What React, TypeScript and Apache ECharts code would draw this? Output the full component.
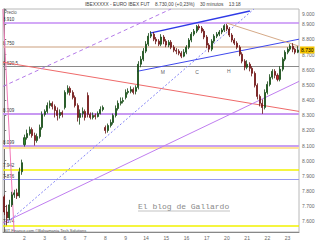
import React, { useEffect, useRef } from "react";
import * as echarts from "echarts";

// Day labels (first day unlabeled)
const dayLabels = ["", "2", "3", "6", "7", "8", "9", "14", "15", "16", "17", "20", "21", "22", "23"];

// candles per day: [open, close, low, high]
const d00 = [[7762, 7662, 7642, 7775], [7662, 7623, 7574, 7709], [7623, 7709, 7609, 7742], [7709, 7775, 7695, 7795], [7775, 7788, 7755, 7808], [7788, 7768, 7748, 7815], [7768, 7927, 7755, 7954], [7927, 7987, 7907, 8007]];
const d02 = [[8106, 8152, 8093, 8172], [8152, 8179, 8139, 8205], [8179, 8205, 8166, 8225], [8205, 8166, 8152, 8219], [8166, 8133, 8100, 8185], [8133, 8159, 8119, 8179], [8159, 8219, 8146, 8238], [8219, 8305, 8205, 8325]];
const d03 = [[8305, 8325, 8291, 8338], [8325, 8364, 8311, 8384], [8364, 8378, 8344, 8397], [8378, 8358, 8338, 8391], [8358, 8331, 8285, 8371], [8331, 8298, 8265, 8351], [8298, 8318, 8278, 8338], [8318, 8305, 8285, 8331]];
const d06 = [[8351, 8450, 8338, 8464], [8450, 8477, 8437, 8497], [8477, 8450, 8430, 8490], [8450, 8417, 8404, 8464], [8417, 8364, 8351, 8430], [8364, 8285, 8258, 8378], [8285, 8311, 8238, 8338], [8311, 8325, 8285, 8351]];
const d07 = [[8325, 8285, 8265, 8338], [8430, 8305, 8285, 8450], [8305, 8285, 8272, 8318], [8285, 8298, 8272, 8318], [8298, 8291, 8272, 8311], [8291, 8311, 8285, 8325], [8311, 8338, 8305, 8358], [8338, 8351, 8325, 8364]];
const d08 = [[8219, 8199, 8179, 8232], [8199, 8232, 8185, 8245], [8232, 8252, 8219, 8272], [8252, 8298, 8238, 8311], [8298, 8344, 8285, 8364], [8344, 8378, 8331, 8397], [8378, 8391, 8364, 8417], [8391, 8397, 8378, 8417]];
const d09 = [[8417, 8450, 8404, 8470], [8450, 8457, 8437, 8477], [8457, 8470, 8444, 8490], [8470, 8450, 8437, 8483], [8457, 8483, 8437, 8497], [8483, 8636, 8470, 8656], [8636, 8669, 8616, 8689], [8669, 8722, 8656, 8742]];
const d14 = [[8722, 8768, 8709, 8788], [8768, 8821, 8755, 8841], [8821, 8834, 8808, 8854], [8834, 8801, 8788, 8848], [8801, 8788, 8768, 8815], [8788, 8768, 8755, 8801], [8768, 8815, 8755, 8834], [8815, 8788, 8768, 8828]];
const d15 = [[8788, 8762, 8748, 8801], [8762, 8781, 8748, 8795], [8781, 8748, 8735, 8795], [8748, 8728, 8715, 8762], [8728, 8722, 8702, 8742], [8722, 8709, 8695, 8735], [8709, 8689, 8676, 8722], [8689, 8715, 8682, 8735]];
const d16 = [[8715, 8748, 8702, 8762], [8748, 8795, 8735, 8808], [8795, 8834, 8781, 8848], [8834, 8854, 8821, 8868], [8854, 8885, 8841, 8895], [8885, 8875, 8861, 8898], [8875, 8854, 8841, 8888], [8854, 8815, 8801, 8868]];
const d17 = [[8815, 8762, 8742, 8828], [8762, 8735, 8715, 8775], [8735, 8788, 8722, 8801], [8788, 8821, 8775, 8834], [8821, 8834, 8808, 8848], [8834, 8848, 8821, 8861], [8848, 8861, 8834, 8874], [8861, 8890, 8848, 8900]];
const d20 = [[8890, 8868, 8854, 8902], [8868, 8828, 8815, 8881], [8828, 8795, 8781, 8841], [8795, 8775, 8762, 8808], [8775, 8748, 8735, 8788], [8748, 8702, 8689, 8762], [8702, 8656, 8642, 8715], [8656, 8616, 8596, 8669]];
const d21 = [[8616, 8636, 8603, 8662], [8636, 8609, 8589, 8649], [8609, 8576, 8556, 8623], [8576, 8497, 8483, 8589], [8497, 8424, 8404, 8510], [8424, 8378, 8358, 8437], [8378, 8351, 8309, 8404], [8351, 8450, 8338, 8470]];
const d22 = [[8450, 8503, 8437, 8523], [8503, 8550, 8490, 8570], [8550, 8589, 8536, 8603], [8589, 8563, 8543, 8603], [8563, 8536, 8523, 8576], [8536, 8603, 8523, 8623], [8603, 8669, 8589, 8682], [8669, 8715, 8656, 8728]];
const d23 = [[8715, 8735, 8702, 8748], [8735, 8755, 8722, 8768], [8755, 8735, 8715, 8775], [8735, 8715, 8702, 8742], [8715, 8730, 8709, 8755]];
const days = [d00, d02, d03, d06, d07, d08, d09, d14, d15, d16, d17, d20, d21, d22, d23];

const yTicks = [7600, 7700, 7800, 7900, 8000, 8100, 8200, 8300, 8400, 8500, 8600, 8700, 8800, 8900, 9000];
const lastPrice = 8730;

// horizontal support / resistance levels
const levelValues = [8910, 8750, 8620.5, 8309, 8100, 8088, 7942, 7876, 7574];
const levelLabels = ["8.910", "8.750", "8.620,5", "8.309", "8.099", "", "7.942", "7.876", "7.574"];
const levelColors = ["#c58cf5", "#dcbfa8", "#8a8a8a", "#c898f2", "#c8a0f2", "#ffe39a", "#f2f200", "#9a9af0", "#f2f200"];
const levelWidths = [1.5, 1.5, 1, 2, 2, 2, 1.5, 1, 1.5];

// trendlines: [[candle index, price], [candle index, price]]
const tlPink = [[-0.5, 9000], [3.9, 7530]];
const tlRed = [[-0.5, 8649], [116.5, 8325]];
const tlPurple = [[-0.5, 7590], [116.5, 8523]];
const tlBlueDotted = [[0.3, 7580], [98.7, 9000]];
const tlPurpleDashed = [[-0.5, 8490], [65.9, 9000]];
const tlBlueUpper = [[57.6, 8841], [97.1, 8987]];
const tlBlueLower = [[52.5, 8589], [116.5, 8801]];
const tlTan = [[88.0, 8907], [116.5, 8755]];

// pattern letters: [candle index, price, text]
const letters = [[62.7, 8583, "M"], [76.2, 8583, "C"], [88.8, 8589, "H"]];

const headerText = "IBEXXXXX - EURO IBEX FUT    8.730,00 (+0,23%)    30 minutos    13:18";

const fmt = (v: number) => {
  const t = Math.floor(v / 1000);
  const r = Math.round(v % 1000);
  return t + "." + String(r).padStart(3, "0");
};

export default function App() {
  const ref = useRef<HTMLDivElement>(null);
  useEffect(() => {
    const chart = echarts.init(ref.current!, null, { renderer: "svg" });
    const candles: number[][] = [];
    const cats: string[] = [];
    days.forEach((d, di) => {
      d.forEach((c, ci) => {
        candles.push(c);
        cats.push(ci === 0 ? dayLabels[di] : "");
      });
    });
    const N = candles.length;
    const font = "Liberation Sans";
    const tl = (data: number[][], color: string, type: any = "solid", width = 1) => ({
      type: "line",
      xAxisIndex: 1,
      yAxisIndex: 0,
      data,
      symbol: "none",
      silent: true,
      lineStyle: { color, width, type },
      z: 3,
    });
    const option: any = {
      animation: false,
      backgroundColor: "#ffffff",
      textStyle: { fontFamily: font },
      grid: { left: 3, right: 21, top: 9, bottom: 8, show: true, borderColor: "#b8b8b8", borderWidth: 1 },
      xAxis: [
        {
          type: "category",
          data: cats,
          boundaryGap: true,
          axisLine: { show: true, lineStyle: { color: "#888" } },
          axisTick: { show: false },
          axisLabel: { interval: 0, fontSize: 5, color: "#666", margin: 3, fontFamily: font },
          splitLine: { show: false },
        },
        { type: "value", min: -0.5, max: N - 0.5, show: false },
      ],
      yAxis: {
        type: "value",
        position: "right",
        min: 7530,
        max: 9000,
        scale: true,
        axisLine: { show: true, lineStyle: { color: "#777" } },
        axisTick: { show: true, length: 2, customValues: yTicks, lineStyle: { color: "#777" } },
        axisLabel: {
          customValues: yTicks,
          fontSize: 5,
          color: "#666",
          margin: 3,
          fontFamily: font,
          formatter: (v: number) => (v >= 9000 ? "{top|" + fmt(v) + "}" : fmt(v)),
          rich: { top: { padding: [10, 0, 0, 0], fontSize: 5, color: "#666", fontFamily: font } },
        },
        splitLine: { show: false },
      },
      graphic: [
        { type: "text", left: 85, top: 1.5, style: { text: headerText, fontSize: 4.8, fill: "#444", fontFamily: font } },
        { type: "text", left: 4, top: 10, style: { text: "Precio", fontSize: 4.5, fill: "#555", fontFamily: font } },
        { type: "text", left: 4, top: 228.5, z: 10, style: { text: "BIT Finance.com \u00a9Bolsamania Tech Solutions", fontSize: 4, fill: "#555", fontFamily: font } },
        { type: "text", left: 138, top: 202, style: { text: "El blog de Gallardo", fontSize: 8, fill: "#8a8a8a", fontFamily: "Liberation Mono" } },
        { type: "line", shape: { x1: 138, y1: 211, x2: 230, y2: 211 }, style: { stroke: "#9a9a9a", lineWidth: 0.6 } },
      ],
      series: [
        {
          type: "candlestick",
          xAxisIndex: 0,
          yAxisIndex: 0,
          data: candles,
          barWidth: "60%",
          z: 5,
          itemStyle: { color: "#2a8a2a", color0: "#c42828", borderColor: "#114411", borderColor0: "#661111", borderWidth: 0.8 },
          markLine: {
            silent: true,
            symbol: ["none", "none"],
            z: 2,
            data: [
              ...levelValues.map((v, i) => ({
                yAxis: v,
                lineStyle: { color: levelColors[i], width: levelWidths[i], type: "solid" },
                label: {
                  show: levelLabels[i] !== "",
                  position: "insideStartTop",
                  formatter: levelLabels[i],
                  fontSize: 4.5,
                  color: "#333",
                  distance: [0, 1],
                  fontFamily: font,
                },
              })),
              {
                yAxis: lastPrice,
                lineStyle: { color: "rgba(0,0,0,0)", width: 0 },
                label: {
                  show: true,
                  position: "end",
                  formatter: fmt(lastPrice),
                  fontSize: 5,
                  color: "#000",
                  backgroundColor: "#f5c400",
                  padding: [1, 1, 1, 1],
                  distance: 1,
                  fontFamily: font,
                },
              },
            ],
          },
        },
        tl(tlPink, "#f27ab8"),
        tl(tlRed, "#ef6a6a"),
        tl(tlPurple, "#c07ef0"),
        tl(tlBlueDotted, "#8484f5", [2, 2]),
        tl(tlPurpleDashed, "#b47ae8", [4, 3]),
        tl(tlBlueUpper, "#2f3ae6", "solid", 1.5),
        tl(tlBlueLower, "#3f48ee"),
        tl(tlTan, "#d6aa88"),
        {
          type: "scatter",
          xAxisIndex: 1,
          yAxisIndex: 0,
          data: letters,
          symbolSize: 0,
          silent: true,
          label: { show: true, position: "inside", formatter: (p: any) => p.data[2], fontSize: 5, color: "#333", fontFamily: font },
        },
      ],
    };
    chart.setOption(option);
    return () => chart.dispose();
  }, []);
  return <div ref={ref} style={{ position: "absolute", left: 0, top: 0, width: 320, height: 240, background: "#fff" }} />;
}
